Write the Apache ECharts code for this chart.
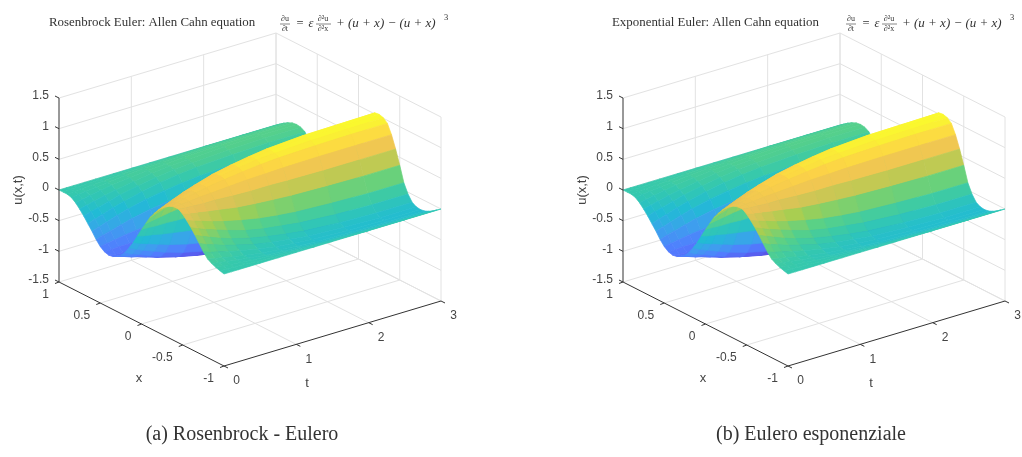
<!DOCTYPE html>
<html><head><meta charset="utf-8">
<style>html,body{margin:0;padding:0;background:#fff}#c{width:1022px;height:457px}</style>
<script src="https://cdn.jsdelivr.net/npm/echarts@6/dist/echarts.min.js"></script>
</head><body><div id="c"></div>
<script>
const xTicks=[1,0.5,0,-0.5,-1];
const tTicks=[0,1,2,3];
const zTicks=[-1.5,-1,-0.5,0,0.5,1,1.5];
const xGrid=[1,.95,.9,.85,.8,.75,.7,.65,.6,.55,.5,.45,.4,.35,.3,.25,.2,.15,.1,.05,0,-.05,-.1,-.15,-.2,-.25,-.3,-.35,-.4,-.45,-.5,-.55,-.6,-.65,-.7,-.75,-.8,-.85,-.9,-.95,-1];
const tGrid=[0,.1,.2,.35,.5,.75,1,1.25,1.5,2,2.5,3];
const uValues=[
[0,0,0,-.02,-.07,-.14,-.22,-.31,-.40,-.50,-.58,-.63,-.65,-.64,-.60,-.55,-.47,-.36,-.24,-.10,.04,.17,.30,.40,.49,.56,.62,.66,.68,.68,.63,.56,.48,.39,.29,.19,.11,.07,.04,.02,0],
[0,.01,.01,0,-.05,-.11,-.18,-.27,-.36,-.46,-.56,-.63,-.67,-.67,-.64,-.60,-.53,-.42,-.29,-.13,.04,.19,.34,.45,.54,.61,.66,.69,.69,.67,.60,.52,.43,.34,.24,.15,.08,.05,.03,.01,0],
[0,.01,.02,.01,-.02,-.08,-.15,-.23,-.32,-.43,-.54,-.62,-.68,-.70,-.68,-.64,-.57,-.47,-.33,-.15,.03,.21,.38,.50,.59,.65,.69,.72,.70,.66,.58,.48,.38,.29,.20,.12,.06,.03,.01,.01,0],
[0,.02,.03,.03,.01,-.04,-.10,-.17,-.26,-.38,-.51,-.62,-.70,-.74,-.73,-.70,-.65,-.54,-.39,-.19,.03,.24,.43,.57,.66,.71,.75,.75,.72,.65,.55,.42,.32,.22,.14,.07,.02,0,0,0,0],
[0,.02,.04,.05,.04,0,-.05,-.12,-.21,-.33,-.49,-.62,-.72,-.78,-.78,-.76,-.71,-.61,-.45,-.22,.02,.26,.49,.63,.72,.77,.79,.79,.73,.65,.52,.37,.26,.16,.09,.03,-.01,-.02,-.02,-.01,0],
[0,.03,.06,.08,.07,.05,.01,-.05,-.14,-.27,-.45,-.61,-.74,-.83,-.85,-.84,-.80,-.70,-.53,-.27,.02,.30,.55,.72,.81,.84,.85,.83,.75,.63,.47,.30,.17,.08,.01,-.03,-.06,-.06,-.04,-.02,0],
[0,.04,.07,.10,.10,.09,.06,.01,-.09,-.23,-.43,-.61,-.76,-.86,-.90,-.90,-.87,-.77,-.59,-.30,.01,.32,.60,.78,.87,.90,.90,.87,.77,.62,.44,.24,.11,.02,-.04,-.08,-.09,-.08,-.06,-.03,0],
[0,.04,.08,.11,.12,.12,.10,.05,-.05,-.19,-.41,-.61,-.77,-.89,-.93,-.94,-.92,-.82,-.63,-.33,.01,.34,.64,.83,.92,.94,.94,.90,.78,.62,.42,.20,.07,-.03,-.08,-.11,-.12,-.10,-.07,-.04,0],
[0,.04,.09,.12,.14,.14,.12,.08,-.02,-.17,-.39,-.60,-.78,-.91,-.96,-.97,-.95,-.86,-.66,-.35,.01,.36,.67,.87,.96,.97,.96,.92,.79,.61,.40,.17,.03,-.07,-.12,-.14,-.14,-.12,-.08,-.04,0],
[0,.05,.10,.13,.16,.17,.15,.11,.01,-.14,-.38,-.60,-.79,-.94,-.99,-1.01,-1.00,-.91,-.70,-.37,0,.37,.70,.91,1.00,1.01,.99,.94,.80,.60,.38,.14,-.01,-.11,-.15,-.17,-.16,-.13,-.09,-.05,0],
[0,.05,.10,.14,.17,.18,.17,.13,.03,-.12,-.37,-.60,-.80,-.95,-1.00,-1.02,-1.01,-.92,-.71,-.38,0,.38,.71,.92,1.01,1.02,1.00,.95,.80,.60,.37,.12,-.03,-.13,-.17,-.18,-.17,-.14,-.10,-.05,0],
[0,.05,.10,.14,.17,.18,.17,.13,.03,-.12,-.37,-.60,-.80,-.95,-1.01,-1.03,-1.02,-.93,-.72,-.38,0,.38,.72,.93,1.02,1.03,1.01,.95,.80,.60,.37,.12,-.03,-.13,-.17,-.18,-.17,-.14,-.10,-.05,0]
];
const panelShift=[0,564];
const titles=["Rosenbrock Euler: Allen Cahn equation","Exponential Euler: Allen Cahn equation"];
const captions=["(a) Rosenbrock - Eulero","(b) Eulero esponenziale"];
const parula=[[62,38,168],[71,70,235],[62,111,255],[39,150,235],[8,180,208],[30,194,165],[72,204,120],[158,201,61],[230,186,69],[252,204,51],[249,251,21]];

function project(x,t,z,shift){
  const s=(1-x)/2, h=(z+1.5)/3;
  return [59+shift+s*165+t/3*217, 282+s*84-t/3*65-h*184];
}
function colorOf(z){
  const v=Math.max(0,Math.min(1,(z+1.03)/2.06))*(parula.length-1);
  const i=Math.min(parula.length-2,Math.floor(v)),f=v-i;
  const c=parula[i].map((a,k)=>a+(parula[i+1][k]-a)*f);
  return 'rgb('+c.map(a=>Math.round(a*0.9+255*0.1)).join(',')+')';
}
const gridSegs=[],axisSegs=[];
zTicks.forEach(z=>{gridSegs.push([[1,0,z],[1,3,z]],[[1,3,z],[-1,3,z]]);});
tTicks.slice(1).forEach(t=>{gridSegs.push([[1,t,-1.5],[1,t,1.5]],[[1,t,-1.5],[-1,t,-1.5]]);});
xTicks.forEach(x=>{gridSegs.push([[x,3,-1.5],[x,3,1.5]]);if(x!==1&&x!==-1)gridSegs.push([[x,0,-1.5],[x,3,-1.5]]);});
axisSegs.push([[1,0,-1.5],[1,0,1.5]],[[1,0,-1.5],[-1,0,-1.5]],[[-1,0,-1.5],[-1,3,-1.5]]);

const cells=[];
for(let ti=tGrid.length-2;ti>=0;ti--)for(let xi=0;xi<xGrid.length-1;xi++)cells.push([ti,xi]);

function surfaceSeries(shift){
  return {type:'custom',coordinateSystem:'cartesian2d',silent:true,animation:false,clip:false,progressive:0,
    data:cells,z:3,
    renderItem(p,api){
      const [ti,xi]=cells[p.dataIndex];
      const corners=[[ti,xi],[ti,xi+1],[ti+1,xi+1],[ti+1,xi]];
      const pts=corners.map(([a,b])=>api.coord(project(xGrid[b],tGrid[a],uValues[a][b],shift)));
      const m=corners.reduce((s,[a,b])=>s+uValues[a][b],0)/4;
      const col=colorOf(m);
      return {type:'polygon',shape:{points:pts},style:{fill:col,stroke:col,lineWidth:.7}};
    }};
}
function segSeries(segs,shift,color,width,z){
  return {type:'custom',coordinateSystem:'cartesian2d',silent:true,animation:false,clip:false,z,
    data:segs.map((_,i)=>[i]),
    renderItem(p,api){
      const [a,b]=segs[p.dataIndex];
      const q=api.coord(project(a[0],a[1],a[2],shift)),r=api.coord(project(b[0],b[1],b[2],shift));
      return {type:'line',shape:{x1:q[0],y1:q[1],x2:r[0],y2:r[1]},style:{stroke:color,lineWidth:width}};
    }};
}
function tickLabelSeries(shift){
  const items=[];
  zTicks.forEach(z=>items.push({pos:[1,0,z],text:String(z),dx:-10,dy:-2,align:'right',tick:[-4,-2]}));
  xTicks.forEach(x=>items.push({pos:[x,0,-1.5],text:String(x),dx:-10,dy:13,align:'right',tick:[-4,1.5]}));
  tTicks.forEach(t=>items.push({pos:[-1,t,-1.5],text:String(t),dx:12.5,dy:15,align:'center',tick:[4,2]}));
  return {type:'custom',coordinateSystem:'cartesian2d',silent:true,animation:false,clip:false,z:5,
    data:items.map((_,i)=>[i]),
    renderItem(p,api){
      const it=items[p.dataIndex];
      const c=api.coord(project(it.pos[0],it.pos[1],it.pos[2],shift));
      return {type:'group',children:[
        {type:'line',shape:{x1:c[0],y1:c[1],x2:c[0]+it.tick[0],y2:c[1]+it.tick[1]},style:{stroke:'#333',lineWidth:1}},
        {type:'text',x:c[0]+it.dx,y:c[1]+it.dy,style:{text:it.text,fill:'#444',font:'12px "Liberation Sans"',textAlign:it.align,textVerticalAlign:'middle'}}
      ]};
    }};
}
const serif='"Liberation Serif","DejaVu Serif",serif';
function txt(text,x,y,size,align,extra){
  return Object.assign({type:'text',x,y,silent:true,style:{text,fill:'#333',font:size+'px '+serif,textAlign:align||'left',textVerticalAlign:'middle'}},extra||{});
}
function bar(x1,x2,y){return {type:'line',silent:true,shape:{x1,y1:y,x2,y2:y},style:{stroke:'#555',lineWidth:.7}};}
function titleParts(i){
  const start=[49,612][i], m=[0,566][i], w=[225,228][i];
  return [
    Object.assign(txt(titles[i],start,23,12.9),{}),
    txt('\u2202u',285+m,19,8,'center'),bar(280+m,290+m,24),txt('\u2202t',285+m,29,8,'center'),
    txt('=',300+m,24,12.5,'center'),txt('\u03b5',311+m,24,12.5,'center',{style:{text:'\u03b5',fill:'#333',font:'italic 12.5px '+serif,textAlign:'center',textVerticalAlign:'middle'}}),
    txt('\u2202\u00b2u',323+m,19,8,'center'),bar(316+m,331+m,24),txt('\u2202\u00b2x',323+m,29,8,'center'),
    {type:'text',x:336+m,y:24,silent:true,style:{text:'+ (u + x) \u2212 (u + x)',fill:'#333',font:'italic 13px '+serif,textAlign:'left',textVerticalAlign:'middle'}},
    txt('3',446+m,18,8.5,'center')
  ];
}
function nameParts(shift){
  const sans='13px "Liberation Sans"';
  return [
    {type:'text',x:139+shift,y:378,silent:true,style:{text:'x',fill:'#444',font:sans,textAlign:'center',textVerticalAlign:'middle'}},
    {type:'text',x:307+shift,y:383,silent:true,style:{text:'t',fill:'#444',font:sans,textAlign:'center',textVerticalAlign:'middle'}},
    {type:'text',x:18+shift,y:190,rotation:Math.PI/2,silent:true,style:{text:'u(x,t)',fill:'#444',font:sans,textAlign:'center',textVerticalAlign:'middle'}}
  ];
}
const graphics=[...titleParts(0),...titleParts(1),...nameParts(0),...nameParts(564),
  txt(captions[0],242,435,20,'center',{}),txt(captions[1],811,435,20,'center',{})];

const chart=echarts.init(document.getElementById('c'),null,{renderer:'canvas'});
const series=[];
panelShift.forEach(sh=>{
  series.push(segSeries(gridSegs,sh,'#e2e2e2',1,1));
  series.push(surfaceSeries(sh));
  series.push(segSeries(axisSegs,sh,'#333',1,4));
  series.push(tickLabelSeries(sh));
});
chart.setOption({
  animation:false,backgroundColor:'#fff',
  grid:{left:0,top:0,right:0,bottom:0},
  xAxis:{type:'value',min:0,max:1022,show:false},
  yAxis:{type:'value',min:0,max:457,inverse:true,show:false},
  tooltip:{show:false},
  series,
  graphic:graphics
});
</script></body></html>
